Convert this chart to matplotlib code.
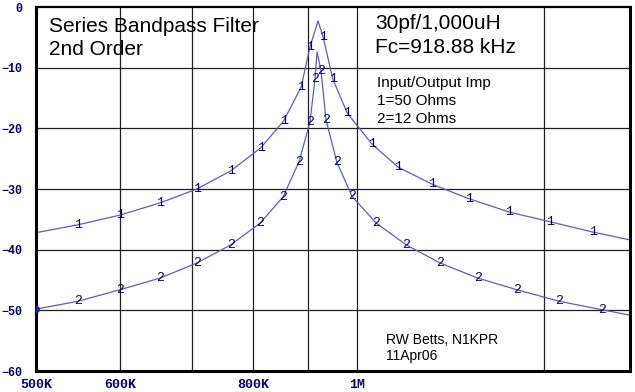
import matplotlib.pyplot as plt

# Frequenz [kHz] / Dämpfung [dB]
freq_1 = [500, 547.6, 599.6, 653.6, 708, 762, 813, 854, 887, 904, 920, 930, 950, 980,
          1034, 1094, 1177, 1275, 1391, 1519, 1667, 1806]
db_1 = [-37.2, -35.9, -34.3, -32.3, -30.0, -27.0, -23.2, -18.8, -13.2, -6.6, -2.3, -4.9,
        -11.9, -17.5, -22.6, -26.4, -29.2, -31.6, -33.8, -35.4, -37.1, -38.4]

freq_2 = [500, 547.6, 599.6, 653.6, 708, 762, 812, 853, 883, 904, 914, 918, 926, 936, 958,
          990, 1043, 1113, 1198, 1300, 1414, 1549, 1700, 1806]
db_2 = [-49.8, -48.5, -46.6, -44.7, -42.2, -39.2, -35.6, -31.3, -25.5, -19.0, -11.9, -7.4,
        -10.5, -18.6, -25.5, -31.2, -35.6, -39.2, -42.2, -44.7, -46.6, -48.5, -49.9, -50.8]

# welche Punkte eine Ziffer bekommen (Endpunkte und Spitze von Kurve 1 nicht)
skip_1 = [0, 10, 21]
skip_2 = [0, 11, 23]

x_ticks = [500, 600, 800, 1000]
x_tick_labels = ["500K", "600K", "800K", "1M"]
x_grid = [600, 700, 800, 900, 1000, 1500]
y_ticks = [0, -10, -20, -30, -40, -50, -60]

line_col = "#5a5ad6"
txt_col = "#000080"
mono = "Liberation Mono"
sans = "Liberation Sans"

fig = plt.figure(figsize=(6.35, 3.92), dpi=100)
ax = fig.add_axes([36 / 635, 1 - 371 / 392, 594 / 635, 364 / 392])

ax.set_xscale("log")
ax.set_xlim(500, 1806)
ax.set_ylim(-60, 0)

for g in x_grid:
    ax.axvline(g, color="#202020", lw=0.9, zorder=1)
for g in y_ticks[1:-1]:
    ax.axhline(g, color="#202020", lw=0.9, zorder=1)

ax.plot(freq_1, db_1, color=line_col, lw=0.9, zorder=2)
ax.plot(freq_2, db_2, color=line_col, lw=0.9, zorder=2)
ax.plot(freq_2[0], db_2[0], "o", color="#2020c0", ms=4, zorder=3)

for i, (f, d) in enumerate(zip(freq_1, db_1)):
    if i not in skip_1:
        ax.text(f, d, "1", family=mono, fontsize=9.5, color=txt_col,
                ha="center", va="center", zorder=4)
for i, (f, d) in enumerate(zip(freq_2, db_2)):
    if i not in skip_2:
        ax.text(f, d, "2", family=mono, fontsize=9.5, color=txt_col,
                ha="center", va="center", zorder=4)

ax.set_xticks(x_ticks)
ax.set_xticklabels(x_tick_labels)
ax.minorticks_off()
ax.set_yticks(y_ticks)
ax.tick_params(length=0, labelcolor=txt_col)
ax.tick_params(axis="y", pad=10, labelsize=8.5)
ax.tick_params(axis="x", pad=6, labelsize=9.5)
for lab in ax.get_xticklabels() + ax.get_yticklabels():
    lab.set_family(mono)
    lab.set_fontweight("bold")

for s in ax.spines.values():
    s.set_linewidth(2.2)
    s.set_color("black")
ax.spines["top"].set_linewidth(1.6)


def px_text(x, y, s, size):
    fig.text(x / 635, 1 - y / 392, s, family=sans, fontsize=size, va="baseline", ha="left")


px_text(49, 32, "Series Bandpass Filter", 15)
px_text(49, 55, "2nd Order", 15)
px_text(375, 29, "30pf/1,000uH", 15)
px_text(375, 53, "Fc=918.88 kHz", 15)
px_text(377, 87, "Input/Output Imp", 11)
px_text(377, 105, "1=50 Ohms", 11)
px_text(377, 123, "2=12 Ohms", 11)
px_text(386, 344, "RW Betts, N1KPR", 10)
px_text(386, 360, "11Apr06", 10)

fig.savefig("out.png", dpi=100)
